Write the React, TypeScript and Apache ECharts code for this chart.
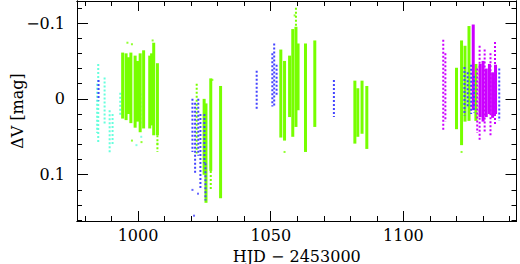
import React, { useEffect, useRef } from "react";
import * as echarts from "echarts";

// axis ranges and ticks
const X_MIN = 977;
const X_MAX = 1142.6;
const Y_MIN = -0.129;
const Y_MAX = 0.161;
const xMajorTicks = [1000, 1050, 1100];
const xMinorTicks = [980, 990, 1000, 1010, 1020, 1030, 1040, 1050, 1060, 1070, 1080, 1090, 1100, 1110, 1120, 1130, 1140];
const yMajorTicks = [-0.1, 0, 0.1];
const yMinorTicks = [-0.12, -0.1, -0.08, -0.06, -0.04, -0.02, 0, 0.02, 0.04, 0.06, 0.08, 0.1, 0.12, 0.14, 0.16];

// nightly runs: [HJD-2453000, top dV, bottom dV]
const greenDense = [
  [994.2, -0.061, 0.026], [995.5, -0.06, 0.028], [996.4, -0.055, 0.02], [997.3, -0.061, 0.032], [998.9, -0.057, 0.038],
  [999.8, -0.05, 0.03], [1000.8, -0.06, 0.044], [1002.1, -0.064, 0.039], [1004.4, -0.057, 0.039], [1005.1, -0.06, 0.035],
  [1005.9, -0.074, 0.048], [1007.3, -0.047, 0.048],
  [1024.9, 0.0, 0.1], [1025.6, 0.006, 0.137], [1027.4, -0.027, 0.095], [1031.1, -0.017, 0.131],
  [1053.8, -0.065, 0.051], [1055.2, -0.05, 0.055], [1057.1, -0.057, 0.024], [1058.3, -0.092, 0.05],
  [1059.5, -0.095, 0.037], [1060.3, -0.073, 0.015], [1063.1, -0.073, 0.07], [1066.6, -0.077, 0.037],
  [1081.7, -0.024, 0.059], [1082.8, -0.014, 0.05], [1084.4, -0.024, 0.046], [1086.2, -0.017, 0.066],
  [1120.0, -0.041, 0.04], [1121.9, -0.077, 0.061], [1123.2, -0.07, 0.03], [1124.7, -0.096, 0.029],
  [1127.3, -0.046, 0.029],
];
const greenSparse = [
  [1022.1, -0.02, 0.072], [1027.4, 0.095, 0.121], [1059.5, -0.12, -0.095], [1007.3, 0.048, 0.07],
];
const greenPts = [
  [996.0, -0.074], [997.7, -0.072], [1005.5, -0.077], [997.7, 0.055], [1007.3, 0.059],
  [1001.3, 0.057], [1055.2, 0.07], [1028.0, -0.025], [1121.9, 0.07], [1059.0, -0.11],
];
const cyanSparse = [
  [985.0, -0.046, 0.059], [984.6, -0.02, 0.045], [987.4, -0.028, 0.033], [989.3, 0.015, 0.072],
  [990.4, 0.02, 0.06], [993.3, -0.008, 0.022], [1000.9, -0.007, 0.033],
];
const cyanPts = [[999.4, 0.061], [1001.2, 0.05]];
const blueSparse = [
  [985.1, -0.025, 0.002], [1020.5, 0.0, 0.07], [1021.5, 0.005, 0.1], [1022.7, 0.0, 0.075],
  [1023.5, 0.02, 0.12], [1025.0, 0.02, 0.085], [1025.4, 0.085, 0.134], [1044.7, -0.037, 0.015],
  [1050.6, -0.06, 0.01], [1051.3, -0.073, 0.011], [1052.2, -0.045, -0.005], [1073.8, -0.025, 0.024],
  [1123.0, -0.042, 0.022], [1124.2, -0.035, 0.01], [1125.5, -0.045, 0.02], [1126.6, -0.03, 0.018],
  [1136.1, -0.04, 0.029],
];
const bluePts = [[1021.1, 0.154], [1020.5, 0.12], [1022.6, 0.125]];
const magentaDense = [
  [1126.3, -0.098, 0.015], [1128.9, -0.046, 0.024], [1130.0, -0.05, 0.03], [1131.2, -0.04, 0.024],
  [1132.4, -0.046, 0.02], [1133.6, -0.035, 0.025], [1134.7, -0.045, 0.02],
];
const magentaSparse = [
  [1115.0, -0.078, 0.041], [1115.8, -0.06, 0.03], [1128.7, -0.07, 0.055], [1130.6, -0.065, 0.045],
  [1132.8, -0.06, 0.05], [1134.5, -0.075, 0.035], [1127.8, -0.04, 0.045],
];

const GREEN = "#77ff00";
const CYAN = "#66ffdd";
const BLUE = "#4444ff";
const MAGENTA = "#cc00ff";
const FONT = "DejaVu Serif";

function colSeries(data: number[][], color: string, dense: boolean) {
  return {
    type: "custom",
    xAxisIndex: 0,
    yAxisIndex: 0,
    data,
    encode: { x: 0, y: [1, 2] },
    renderItem: (_p: any, api: any) => {
      const x = api.value(0);
      const a = api.coord([x, api.value(1)]);
      const b = api.coord([x, api.value(2)]);
      const y0 = Math.min(a[1], b[1]);
      const h = Math.abs(b[1] - a[1]);
      if (dense) {
        return { type: "rect", shape: { x: a[0] - 1.5, y: y0, width: 3, height: h }, style: { fill: color } };
      }
      return {
        type: "line",
        shape: { x1: a[0], y1: y0, x2: a[0], y2: y0 + h },
        style: { stroke: color, lineWidth: 2, lineDash: [2, 2] },
      };
    },
  };
}

function ptSeries(data: number[][], color: string) {
  return {
    type: "scatter",
    xAxisIndex: 0,
    yAxisIndex: 0,
    data,
    symbol: "rect",
    symbolSize: 2,
    itemStyle: { color },
  };
}

function xAx(position: string, ticks: number[], len: number, labels: boolean, name?: string) {
  return {
    type: "value",
    position,
    min: X_MIN,
    max: X_MAX,
    name: name || "",
    nameLocation: "middle",
    nameGap: 27,
    nameMoveOverlap: false,
    nameTextStyle: { fontFamily: FONT, fontSize: 16, color: "#000" },
    axisLine: { show: true, onZero: false, lineStyle: { color: "#000", width: 1 } },
    axisTick: { show: true, inside: true, length: len, customValues: ticks, lineStyle: { color: "#000", width: 1 } },
    axisLabel: labels
      ? { show: true, customValues: ticks, margin: 6, fontFamily: FONT, fontSize: 16, color: "#000", formatter: (v: number) => String(v) }
      : { show: false },
    splitLine: { show: false },
  };
}

function yAx(position: string, ticks: number[], len: number, labels: boolean, name?: string) {
  return {
    type: "value",
    position,
    inverse: true,
    min: Y_MIN,
    max: Y_MAX,
    name: name || "",
    nameLocation: "middle",
    nameRotate: 90,
    nameGap: 52,
    nameMoveOverlap: false,
    nameTextStyle: { fontFamily: FONT, fontSize: 16, color: "#000" },
    axisLine: { show: true, onZero: false, lineStyle: { color: "#000", width: 1 } },
    axisTick: { show: true, inside: true, length: len, customValues: ticks, lineStyle: { color: "#000", width: 1 } },
    axisLabel: labels
      ? {
          show: true,
          customValues: ticks,
          margin: 12,
          fontFamily: FONT,
          fontSize: 16,
          color: "#000",
          formatter: (v: number) => (Math.abs(v) < 1e-9 ? "0" : v < 0 ? "\u2212" + String(-v) : String(v)),
        }
      : { show: false },
    splitLine: { show: false },
  };
}

export default function App() {
  const ref = useRef<HTMLDivElement>(null);
  useEffect(() => {
    if (!ref.current) return;
    const chart = echarts.init(ref.current, undefined, { renderer: "svg" });
    chart.setOption({
      animation: false,
      backgroundColor: "#fff",
      grid: { left: 77, right: 3.5, top: 1, bottom: 43, containLabel: false, outerBoundsMode: "none" },
      xAxis: [
        xAx("bottom", xMajorTicks, 10, true, "HJD \u2212 2453000"),
        xAx("bottom", xMinorTicks, 5, false),
        xAx("top", xMajorTicks, 10, false),
        xAx("top", xMinorTicks, 5, false),
      ],
      yAxis: [
        yAx("left", yMajorTicks, 11, true, "\u0394V [mag]"),
        yAx("left", yMinorTicks, 5, false),
        yAx("right", yMajorTicks, 11, false),
        yAx("right", yMinorTicks, 5, false),
      ],
      series: [
        colSeries(cyanSparse, CYAN, false),
        ptSeries(cyanPts, CYAN),
        colSeries(greenDense, GREEN, true),
        colSeries(greenSparse, GREEN, false),
        ptSeries(greenPts, GREEN),
        colSeries(magentaDense, MAGENTA, true),
        colSeries(magentaSparse, MAGENTA, false),
        colSeries(blueSparse, BLUE, false),
        ptSeries(bluePts, BLUE),
      ],
    });
    return () => chart.dispose();
  }, []);
  return <div ref={ref} style={{ position: "fixed", left: 0, top: 0, width: 520, height: 264 }} />;
}
